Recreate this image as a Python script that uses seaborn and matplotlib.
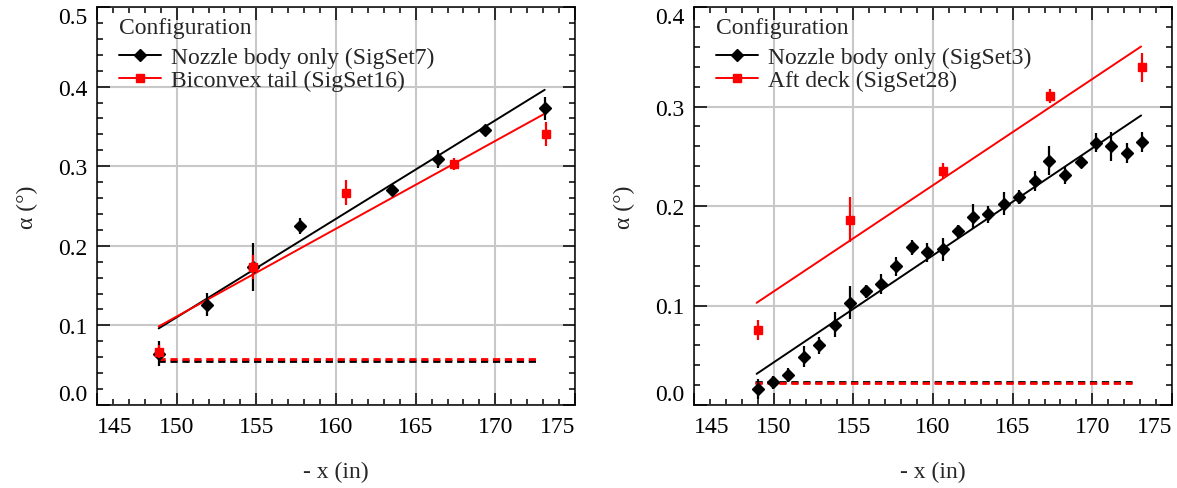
import matplotlib
matplotlib.use("Agg")
import matplotlib.pyplot as plt
from matplotlib.lines import Line2D
from matplotlib.ticker import MultipleLocator
import seaborn as sns

# ---- left panel: SigSet7 vs SigSet16 ----
x_set7 = [148.87, 151.90, 154.78, 157.72, 163.52, 166.43, 169.33, 173.14]
y_set7 = [0.0644, 0.1259, 0.1736, 0.2246, 0.2702, 0.3087, 0.3459, 0.3727]
e_set7 = [0.0157, 0.0142, 0.0300, 0.0100, 0.0073, 0.0115, 0.0063, 0.0142]

x_set16 = [148.90, 154.82, 160.61, 167.40, 173.16]
y_set16 = [0.0669, 0.1736, 0.2668, 0.3024, 0.3404]
e_set16 = [0.0080, 0.0150, 0.0155, 0.0073, 0.0146]

fit_x_left = [148.87, 173.10]
fit_set7 = [0.0962, 0.3960]
fit_set16 = [0.0987, 0.3660]
base_x_left = [148.80, 172.60]
base_set7 = [0.0556, 0.0556]
base_set16 = [0.0577, 0.0577]

# ---- right panel: SigSet3 vs SigSet28 ----
x_set3 = [148.99, 149.98, 150.90, 151.89, 152.87, 153.82, 154.80, 155.77, 156.71,
          157.67, 158.66, 159.62, 160.61, 161.55, 162.52, 163.48, 164.44, 165.41,
          166.39, 167.30, 168.28, 169.27, 170.21, 171.19, 172.16, 173.12]
y_set3 = [0.0163, 0.0229, 0.0303, 0.0487, 0.0598, 0.0809, 0.1027, 0.1141, 0.1218,
          0.1395, 0.1583, 0.1536, 0.1563, 0.1747, 0.1894, 0.1915, 0.2022, 0.2089,
          0.2250, 0.2457, 0.2307, 0.2447, 0.2635, 0.2598, 0.2534, 0.2642]
e_set3 = [0.0100, 0.0067, 0.0067, 0.0110, 0.0090, 0.0130, 0.0164, 0.0065, 0.0100,
          0.0097, 0.0080, 0.0097, 0.0114, 0.0064, 0.0126, 0.0084, 0.0114, 0.0067,
          0.0097, 0.0146, 0.0089, 0.0059, 0.0097, 0.0142, 0.0097, 0.0102]

x_set28 = [148.99, 154.80, 160.61, 167.36, 173.14]
y_set28 = [0.0755, 0.1864, 0.2350, 0.3107, 0.3395]
e_set28 = [0.0104, 0.0226, 0.0080, 0.0072, 0.0146]

fit_x_right = [148.93, 173.06]
fit_set3 = [0.0313, 0.2910]
fit_set28 = [0.1027, 0.3603]
base_x_right = [148.85, 172.47]
base_set3 = [0.0229, 0.0229]
base_set28 = [0.0223, 0.0223]

x_ticks = [145, 150, 155, 160, 165, 170, 175]

sns.set_style("ticks")
plt.rcParams["font.family"] = ["Liberation Serif", "DejaVu Serif"]

FS = 17
fig = plt.figure(figsize=(11.77, 4.89), dpi=100)
ax1 = fig.add_axes([97 / 1177, 83 / 489, 478 / 1177, 398 / 489])
ax2 = fig.add_axes([694 / 1177, 83 / 489, 478 / 1177, 398 / 489])


def draw_panel(ax, xa, ya, ea, xb, yb, eb, fx, fa, fb, bx, ba, bb, ymax, labels):
    # dashed baselines and fit lines
    sns.lineplot(x=bx, y=ba, ax=ax, color="black", lw=2, zorder=3)
    sns.lineplot(x=bx, y=bb, ax=ax, color="red", lw=2, zorder=3)
    for ln in ax.lines[-2:]:
        ln.set_dashes((2.6, 1.7))
    sns.lineplot(x=fx, y=fa, ax=ax, color="black", lw=1.4, zorder=4)
    sns.lineplot(x=fx, y=fb, ax=ax, color="red", lw=1.4, zorder=4)

    # points with error bars
    ax.errorbar(xa, ya, yerr=ea, fmt="D", color="black", ms=5.8, elinewidth=1.6,
                capsize=0, zorder=5)
    ax.errorbar(xb, yb, yerr=eb, fmt="s", color="red", ms=5.5, elinewidth=1.6,
                capsize=0, zorder=6)

    ax.set_xlim(145, 175)
    ax.set_ylim(0, ymax)
    ax.xaxis.set_minor_locator(MultipleLocator(1))
    ax.yaxis.set_minor_locator(MultipleLocator(0.02))
    ax.grid(True, which="major", color="#c8c8c8", lw=1.5, zorder=0)
    ax.set_axisbelow(True)
    ax.tick_params(which="both", direction="in", top=True, right=True,
                   colors="black", labelsize=FS, width=1.1)
    ax.tick_params(which="major", length=9)
    ax.tick_params(which="minor", length=4.5)
    ax.tick_params(axis="x", pad=8)
    ax.tick_params(axis="y", pad=7)
    ax.set_xticks(x_ticks)
    ax.set_xticklabels([str(t) for t in x_ticks])
    yt = [round(i * 0.1, 1) for i in range(int(round(ymax * 10)) + 1)]
    ax.set_yticks(yt)
    ax.set_yticklabels([f"{v:.1f}" for v in yt])
    xl = ax.get_xticklabels()
    xl[0].set_ha("left")
    xl[-1].set_ha("right")
    yl = ax.get_yticklabels()
    yl[0].set_va("bottom")
    yl[-1].set_va("top")
    for s in ax.spines.values():
        s.set_color("black")
        s.set_linewidth(1.1)

    ax.set_xlabel("- x (in)", fontsize=FS, labelpad=17)
    ax.set_ylabel("α (°)", fontsize=FS, labelpad=14)

    handles = [
        Line2D([], [], color="black", marker="D", ms=5.8, lw=1.4),
        Line2D([], [], color="red", marker="s", ms=5.5, lw=1.4),
    ]
    leg = ax.legend(handles, labels, title="Configuration", loc="upper left",
                    bbox_to_anchor=(0.0, 1.03), frameon=False, fontsize=FS,
                    title_fontsize=FS, alignment="left", handlelength=1.75,
                    handletextpad=0.45, labelspacing=0.05, borderaxespad=0.55)
    # a bit more room between the title and the entries
    leg._legend_box.sep = 6


draw_panel(ax1, x_set7, y_set7, e_set7, x_set16, y_set16, e_set16,
           fit_x_left, fit_set7, fit_set16, base_x_left, base_set7, base_set16,
           0.5, ["Nozzle body only (SigSet7)", "Biconvex tail (SigSet16)"])
draw_panel(ax2, x_set3, y_set3, e_set3, x_set28, y_set28, e_set28,
           fit_x_right, fit_set3, fit_set28, base_x_right, base_set3, base_set28,
           0.4, ["Nozzle body only (SigSet3)", "Aft deck (SigSet28)"])

fig.savefig("out.png", dpi=100)
